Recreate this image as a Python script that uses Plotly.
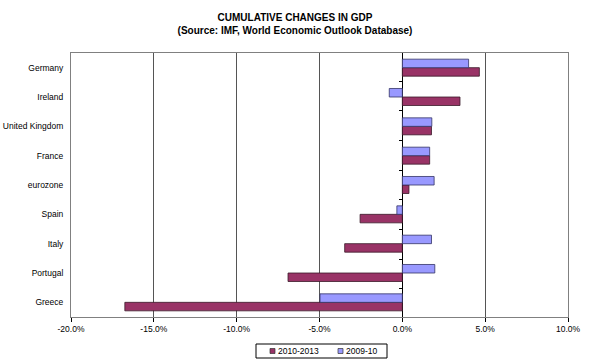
import plotly.graph_objects as go

categories = ["Germany", "Ireland", "United Kingdom", "France", "eurozone",
              "Spain", "Italy", "Portugal", "Greece"]
s2010_2013 = [4.65, 3.48, 1.76, 1.65, 0.40, -2.55, -3.48, -6.9, -16.75]
s2009_10 = [4.00, -0.79, 1.78, 1.65, 1.92, -0.33, 1.76, 1.96, -4.97]
x_ticks = [-20, -15, -10, -5, 0, 5, 10]
x_tick_labels = ["-20.0%", "-15.0%", "-10.0%", "-5.0%", "0.0%", "5.0%", "10.0%"]
series_names = ["2010-2013", "2009-10"]
series_colors = ["#993366", "#9999FF"]

cats_rev = categories[::-1]
fig = go.Figure()
fig.add_trace(go.Bar(
    y=cats_rev, x=s2010_2013[::-1], orientation="h", name=series_names[0],
    marker=dict(color=series_colors[0], line=dict(color="#3a1a2a", width=0.8)),
))
fig.add_trace(go.Bar(
    y=cats_rev, x=s2009_10[::-1], orientation="h", name=series_names[1],
    marker=dict(color=series_colors[1], line=dict(color="#333366", width=0.8)),
))
# invisible helper trace to carry the category tick marks on the zero line
fig.add_trace(go.Scatter(
    y=cats_rev, x=[0] * len(cats_rev), yaxis="y2", mode="none",
    showlegend=False, hoverinfo="skip",
))

# plot-area pixel geometry: x 71..568, y 53..317
def px(xp):
    return (xp - 71) / 497.0

def py(yp):
    return (317 - yp) / 264.0

shapes = [
    dict(type="rect", xref="paper", yref="paper",
         x0=px(256), x1=px(387), y0=py(358), y1=py(344),
         line=dict(color="#000000", width=1), fillcolor="white", layer="above"),
]
annotations = []
leg_sq_x = [270, 338]
for name, col, sx in zip(series_names, series_colors, leg_sq_x):
    shapes.append(dict(type="rect", xref="paper", yref="paper",
                       x0=px(sx), x1=px(sx + 5), y0=py(353.5), y1=py(348.5),
                       line=dict(color="#333333", width=0.7), fillcolor=col,
                       layer="above"))
    annotations.append(dict(text=name, xref="paper", yref="paper",
                            x=px(sx + 6), y=py(351), xanchor="left",
                            yanchor="middle", showarrow=False,
                            font=dict(size=8.5, color="#000000")))

fig.update_layout(
    width=590, height=362,
    margin=dict(l=71, r=22, t=53, b=45, autoexpand=False),
    paper_bgcolor="white", plot_bgcolor="white",
    barmode="group", bargap=0.42, bargroupgap=0,
    font=dict(family="Liberation Sans, Arial, sans-serif", size=8.5, color="#000000"),
    title=dict(
        text="<b>CUMULATIVE CHANGES IN GDP</b><br><b>(Source: IMF, World Economic Outlook Database)</b>",
        x=0.5, xanchor="center", y=0.943, yanchor="top",
        font=dict(size=10, color="#000000"),
    ),
    showlegend=False,
    shapes=shapes,
    annotations=annotations,
    yaxis2=dict(
        overlaying="y", anchor="free", position=20 / 30, side="left",
        categoryorder="array", categoryarray=cats_rev, type="category",
        ticks="outside", tickson="boundaries", ticklen=3, tickcolor="#000000",
        showticklabels=False, showline=False, showgrid=False, zeroline=False,
        automargin=False,
    ),
)
fig.update_xaxes(
    range=[-20, 10], tickvals=x_ticks, ticktext=x_tick_labels,
    showgrid=True, gridcolor="#555555", gridwidth=1,
    zeroline=True, zerolinecolor="#000000", zerolinewidth=1,
    showline=True, linecolor="#808080", mirror=True, linewidth=1,
    ticks="outside", ticklen=4, tickcolor="#000000",
    tickfont=dict(size=8.5), automargin=False,
)
fig.layout.yaxis.update(
    categoryorder="array", categoryarray=cats_rev,
    showgrid=False, zeroline=False,
    showline=True, linecolor="#808080", mirror=True, linewidth=1,
    ticks="", ticklabelstandoff=5, tickfont=dict(size=8.5), automargin=False,
)
fig.write_html("out.html", config={"displayModeBar": False},
               post_script="document.body.style.margin='0';document.body.style.overflow='hidden';")
